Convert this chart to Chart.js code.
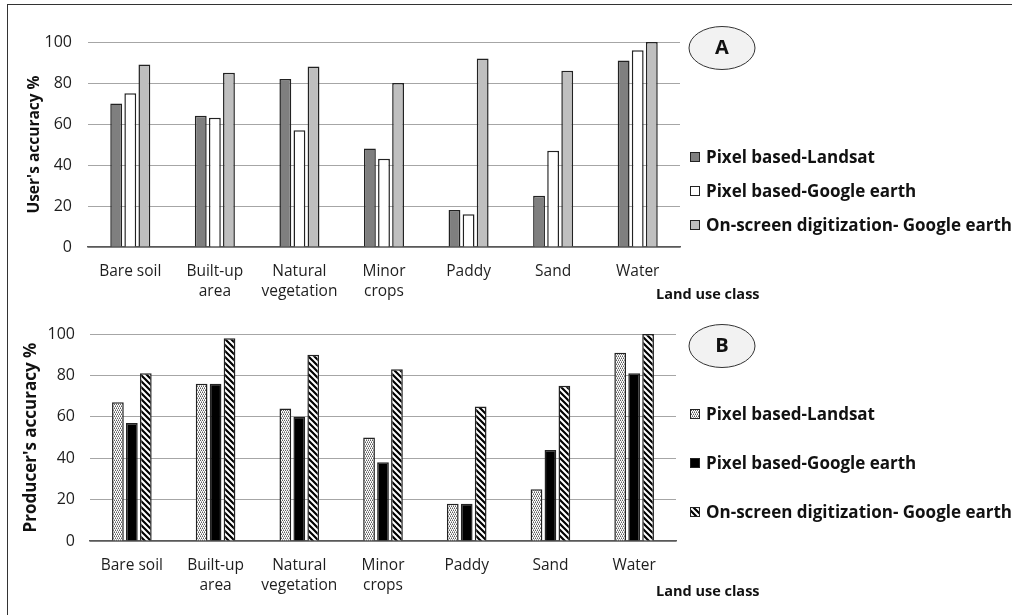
<!DOCTYPE html>
<html>
<head>
<meta charset="utf-8">
<script src="https://cdn.jsdelivr.net/npm/chart.js@4"></script>
<style>
  html, body { margin: 0; padding: 0; background: #fff; }
  #wrap { position: relative; width: 1012px; height: 615px; overflow: hidden; }
  canvas { position: absolute; left: 0; }
  #chartA { top: 0; }
  #chartB { top: 300px; }
  #frame { position: absolute; left: 7px; top: 4px; width: 1100px; height: 700px;
           border-top: 1.5px solid #333; border-left: 1.5px solid #333; pointer-events: none; }
</style>
</head>
<body>
<div id="wrap">
  <canvas id="chartA" width="1012" height="300"></canvas>
  <canvas id="chartB" width="1012" height="315"></canvas>
  <div id="frame"></div>
</div>
<script>
const categories = ["Bare soil", ["Built-up", "area"], ["Natural", "vegetation"], ["Minor", "crops"], "Paddy", "Sand", "Water"];
const seriesNames = ["Pixel based-Landsat", "Pixel based-Google earth", "On-screen digitization- Google earth"];
const yTicks = [0, 20, 40, 60, 80, 100];

// A: user's accuracy
const userLandsat = [70, 64, 82, 48, 18, 25, 91];
const userGooglePixel = [75, 63, 57, 43, 16, 47, 96];
const userOnScreen = [89, 85, 88, 80, 92, 86, 100];

// B: producer's accuracy
const prodLandsat = [67, 76, 64, 50, 18, 25, 91];
const prodGooglePixel = [57, 76, 60, 38, 18, 44, 81];
const prodOnScreen = [81, 98, 90, 83, 65, 75, 100];

const FONT = "'Open Sans', 'Noto Sans', sans-serif";

// fill patterns for chart B
function makeDots() {
  const c = document.createElement('canvas');
  c.width = 4; c.height = 4;
  const g = c.getContext('2d');
  g.fillStyle = '#fff'; g.fillRect(0, 0, 4, 4);
  g.fillStyle = '#5e5e5e';
  [[0, 0], [2, 0], [1, 2], [3, 2]].forEach(p => g.fillRect(p[0], p[1], 1, 1));
  g.fillStyle = '#a8a8a8';
  [[1, 1], [3, 1], [0, 3], [2, 3]].forEach(p => g.fillRect(p[0], p[1], 1, 1));
  return g.createPattern(c, 'repeat');
}
function makeHatch() {
  const c = document.createElement('canvas');
  c.width = 6; c.height = 6;
  const g = c.getContext('2d');
  g.fillStyle = '#fff'; g.fillRect(0, 0, 6, 6);
  g.strokeStyle = '#000'; g.lineWidth = 2.2;
  g.beginPath();
  g.moveTo(-3, -3); g.lineTo(9, 9);
  g.moveTo(-3, 3); g.lineTo(3, 9);
  g.moveTo(3, -3); g.lineTo(9, 3);
  g.stroke();
  return g.createPattern(c, 'repeat');
}

// ellipse tag, legend and "Land use class" drawn onto the canvas
function sidePlugin(letter, ellY, legendY, classY) {
  return {
    id: 'side' + letter,
    afterDraw(chart) {
      const ctx = chart.ctx;
      ctx.save();
      ctx.beginPath();
      ctx.ellipse(722, ellY, 33, 21.5, 0, 0, Math.PI * 2);
      ctx.fillStyle = '#f2f2f2'; ctx.fill();
      ctx.lineWidth = 1; ctx.strokeStyle = '#333'; ctx.stroke();
      ctx.fillStyle = '#111';
      ctx.font = "bold 20px " + FONT;
      ctx.textAlign = 'center'; ctx.textBaseline = 'middle';
      ctx.fillText(letter, 722, ellY);

      ctx.textAlign = 'left';
      ctx.font = "bold 17px " + FONT;
      chart.data.datasets.forEach((ds, i) => {
        const y = legendY[i];
        ctx.fillStyle = ds.backgroundColor;
        ctx.fillRect(690, y - 5, 10, 10);
        ctx.lineWidth = 1; ctx.strokeStyle = '#222';
        ctx.strokeRect(690.5, y - 4.5, 9, 9);
        ctx.fillStyle = '#111';
        ctx.fillText(ds.label, 706, y + 1);
      });

      ctx.font = "bold 14.5px " + FONT;
      ctx.fillText("Land use class", 656, classY);
      ctx.restore();
    }
  };
}

function makeChart(id, data, colors, yTitle, titleSize, titleOffset, area, plugin) {
  const cv = document.getElementById(id);
  return new Chart(cv.getContext('2d'), {
    type: 'bar',
    data: {
      labels: categories,
      datasets: data.map((d, i) => ({
        label: seriesNames[i],
        data: d,
        backgroundColor: colors[i],
        borderColor: '#222',
        borderWidth: 1.5,
        categoryPercentage: 0.5,
        barPercentage: 0.84
      }))
    },
    options: {
      responsive: false,
      animation: false,
      devicePixelRatio: 1,
      layout: { padding: { left: 0, top: area.top, right: 1012 - area.right, bottom: 0 } },
      plugins: { legend: { display: false }, tooltip: { enabled: false } },
      scales: {
        x: {
          grid: { display: false, drawTicks: false },
          border: { display: true, color: '#595959', width: 1.5 },
          ticks: { color: '#1e1e1e', font: { family: FONT, size: 15.5, lineHeight: 1.3 }, padding: 14.5, maxRotation: 0, autoSkip: false },
          afterFit: s => { s.height = area.xh; }
        },
        y: {
          min: 0, max: 100,
          afterBuildTicks: s => { s.ticks = yTicks.map(v => ({ value: v })); },
          grid: { color: '#a6a6a6', lineWidth: 1, drawTicks: false },
          border: { display: false },
          ticks: { color: '#1e1e1e', font: { family: FONT, size: 16 }, padding: area.tickPad },
          title: { display: true, text: yTitle, color: '#111', font: { family: FONT, size: titleSize, weight: 'bold' },
                   padding: { top: titleOffset, bottom: 0 } },
          afterFit: s => { s.width = area.left; }
        }
      }
    },
    plugins: [plugin]
  });
}

makeChart('chartA', [userLandsat, userGooglePixel, userOnScreen],
  ['#7f7f7f', '#ffffff', '#bfbfbf'],
  "User's accuracy %", 15.5, 25,
  { left: 88, right: 680, top: 42, xh: 53, tickPad: 16 },
  sidePlugin('A', 48, [157, 191, 225], 295));

makeChart('chartB', [prodLandsat, prodGooglePixel, prodOnScreen],
  [makeDots(), '#000000', makeHatch()],
  "Producer's accuracy %", 17, 21,
  { left: 90, right: 676, top: 34, xh: 74, tickPad: 15 },
  sidePlugin('B', 46, [114, 163, 212], 292));
</script>
</body>
</html>
